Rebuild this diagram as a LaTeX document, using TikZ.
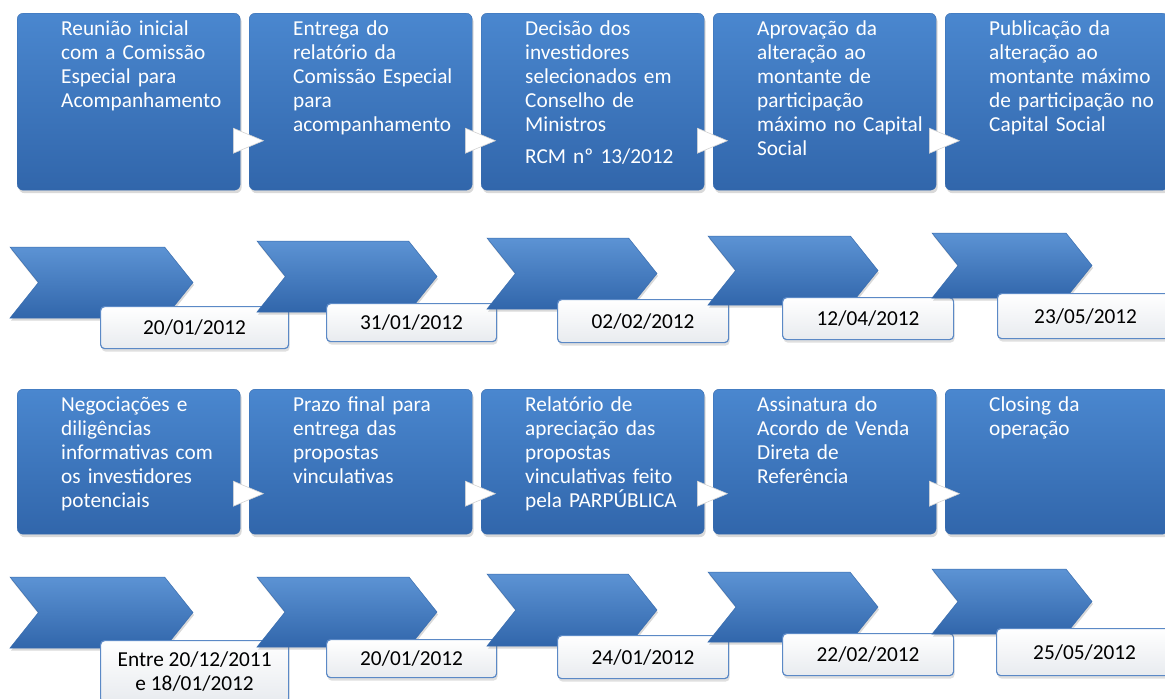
\documentclass[tikz,border=0pt]{standalone}
\usepackage{fontspec}
\setmainfont{Carlito}
\usetikzlibrary{calc,positioning,shadows}
\definecolor{boxtop}{HTML}{4A87CF}
\definecolor{boxbot}{HTML}{3166AB}
\definecolor{boxline}{HTML}{3A6DAE}
\definecolor{datline}{HTML}{5B89C6}
\definecolor{datbot}{HTML}{E8EBEF}
\tikzset{
 etapa/.style={rectangle,rounded corners=6pt,draw=boxline,top color=boxtop,bottom color=boxbot,
  minimum width=223pt,anchor=north west,inner sep=0pt,
  drop shadow={shadow xshift=1.5pt,shadow yshift=-3pt,opacity=.3}},
 texto/.style={text=white,align=left,text width=185pt,anchor=base west,inner sep=0pt,
  font=\fontsize{21.3}{24}\selectfont},
 seta/.style={fill=white,draw=gray!35,line width=.6pt},
 chevron/.style={top color=boxtop!90!white,bottom color=boxbot,draw=boxline,line width=.5pt,
  drop shadow={shadow xshift=1pt,shadow yshift=-2.5pt,opacity=.3}},
 data/.style={rectangle,rounded corners=4pt,draw=datline,line width=1.2pt,top color=white,
  bottom color=datbot,anchor=north west,align=center,inner sep=0pt,
  font=\fontsize{21.3}{24}\selectfont,
  drop shadow={shadow xshift=1pt,shadow yshift=-3pt,opacity=.25}}
}
\begin{document}
\begin{tikzpicture}[x=1pt,y=-1pt]
\useasboundingbox (0,0) rectangle (1165,699);
% etapas, linha 1
\foreach \x/\txt [count=\n] in {17/{Reunião inicial\\com a Comissão\\Especial para\\Acompanhamento},
 249/{Entrega do\\relatório da\\Comissão Especial\\para\\acompanhamento},
 481/{Decisão dos\\investidores\\selecionados em\\Conselho de\\Ministros\\[8pt]RCM nº 13/2012},
 713/{Aprovação da\\alteração ao\\montante de\\participação\\máximo no Capital\\Social},
 945/{Publicação da\\alteração ao\\montante máximo\\de participação no\\Capital Social}}{
 \node[etapa,minimum height=177pt] (e\n) at (\x,13) {};
 \node[texto] (t\n) at ([xshift=44pt,yshift=-22pt]e\n.north west) {\txt};
}
% etapas, linha 2
\foreach \x/\txt [count=\n from 6] in {17/{Negociações e\\diligências\\informativas com\\os investidores\\potenciais},
 249/{Prazo final para\\entrega das\\propostas\\vinculativas},
 481/{Relatório de\\apreciação das\\propostas\\vinculativas feito\\pela PARPÚBLICA},
 713/{Assinatura do\\Acordo de Venda\\Direta de\\Referência},
 945/{Closing da\\operação}}{
 \node[etapa,minimum height=145pt] (e\n) at (\x,389) {};
 \node[texto] (t\n) at ([xshift=44pt,yshift=-22pt]e\n.north west) {\txt};
}
% setas brancas entre as etapas
\foreach \a in {1,2,3,4,6,7,8,9}{
 \coordinate (s\a) at ($(e\a.north east)!.72!(e\a.south east)$);
 \path[seta] ($(s\a)+(-7,-12.5)$) -- ($(s\a)+(23,0)$) -- ($(s\a)+(-7,12.5)$) -- cycle;
}
% chevrons e datas, linha 1
\foreach \x/\t/\w/\h/\dx/\dy/\dw/\dh/\dt [count=\n] in {
 10/247/183/71/100/306/188/42/{20/01/2012},
 257/241/180/71/326/303/170/38/{31/01/2012},
 487/238/170/71/557/299/171/43/{02/02/2012},
 708/236/170/69/782/297/171/42/{12/04/2012},
 932/233/160/65/997/293/176/45/{23/05/2012}}{
 \path[chevron] (\x,\t) -- (\x+\w-0.4*\h,\t) -- (\x+\w,\t+\h/2) -- (\x+\w-0.4*\h,\t+\h)
  -- (\x,\t+\h) -- (\x+0.4*\h,\t+\h/2) -- cycle;
 \node[data,minimum width=\dw pt,minimum height=\dh pt] (d\n) at (\dx,\dy) {\dt};
}
% chevrons e datas, linha 2
\foreach \x/\t/\w/\h/\dx/\dy/\dw/\dh/\dt [count=\n from 6] in {
 10/577/183/71/100/640/188/62/{Entre 20/12/2011\\e 18/01/2012},
 257/577/180/70/326/639/170/38/{20/01/2012},
 487/574/170/72/557/635/171/43/{24/01/2012},
 708/572/170/70/782/633/171/42/{22/02/2012},
 932/569/160/65/996/628/176/47/{25/05/2012}}{
 \path[chevron] (\x,\t) -- (\x+\w-0.4*\h,\t) -- (\x+\w,\t+\h/2) -- (\x+\w-0.4*\h,\t+\h)
  -- (\x,\t+\h) -- (\x+0.4*\h,\t+\h/2) -- cycle;
 \node[data,minimum width=\dw pt,minimum height=\dh pt] (d\n) at (\dx,\dy) {\dt};
}
\end{tikzpicture}
\end{document}
